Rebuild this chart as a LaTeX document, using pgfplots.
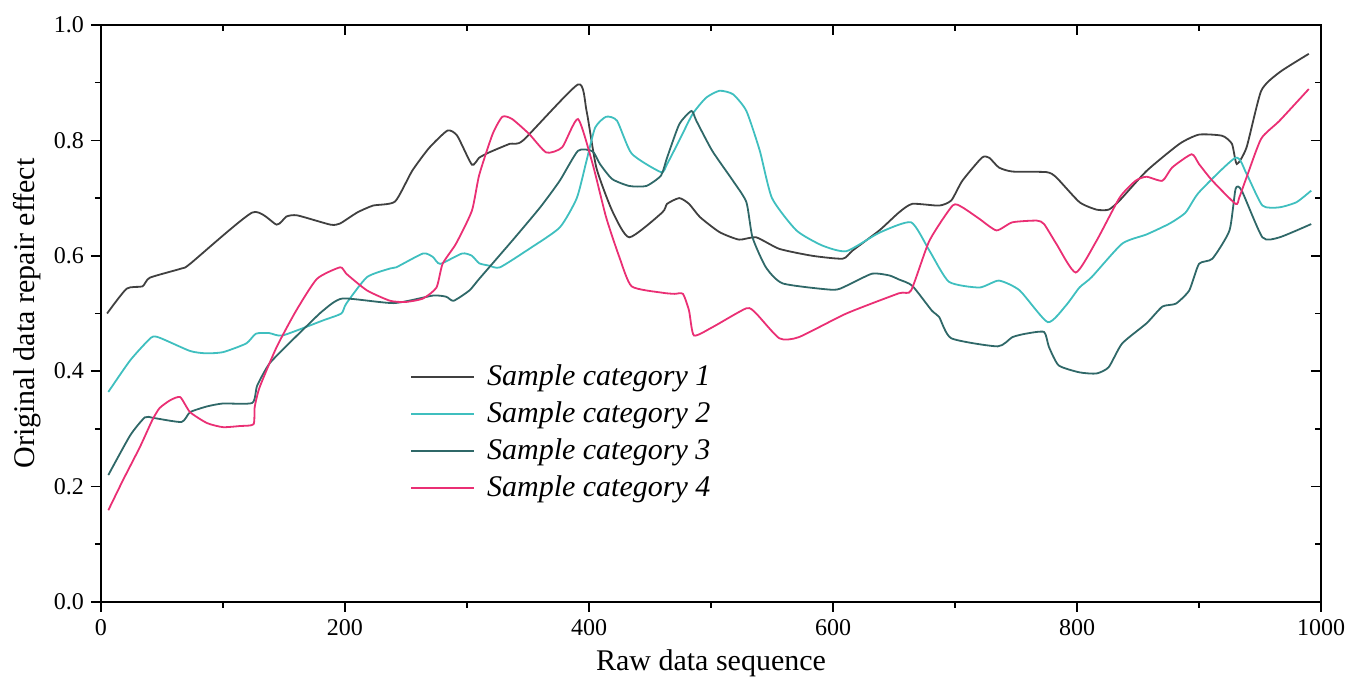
\documentclass[border=0pt]{standalone}
\usepackage{pgfplots}
\pgfplotsset{compat=1.18}
\usepackage{fontspec}
\setmainfont{Liberation Serif}

\definecolor{sone}{HTML}{404040}
\definecolor{stwo}{HTML}{3FBFBF}
\definecolor{sthree}{HTML}{2F6868}
\definecolor{sfour}{HTML}{EA2F74}

\pgfplotsset{
  common/.style={
    scale only axis,
    width=610pt, height=288.5pt,
    xmin=0, xmax=1000, ymin=0, ymax=1,
    xtick={0,200,...,1000},
    ytick={0,0.2,0.4,0.6,0.8,1.0},
    minor x tick num=1,
    minor y tick num=1,
    major tick length=5pt,
    minor tick length=3pt,
    axis line style={line width=1pt},
    every tick/.style={line width=0.8pt, black},
  },
}

\begin{document}
\begin{tikzpicture}
\path[use as bounding box] (-50.5pt,-40.5pt) rectangle (625pt,301pt);

% inward ticks on top and right, as in the source
\begin{axis}[
    common,
    tick align=inside,
    xtick pos=right, ytick pos=right,
    xticklabels={}, yticklabels={},
]
\end{axis}

\begin{axis}[
    common,
    tick align=outside,
    xtick pos=left, ytick pos=left,
    /pgf/number format/assume math mode=true,
    /pgf/number format/1000 sep={},
    ticklabel style={font=\fontsize{12}{14}\selectfont},
    yticklabel style={/pgf/number format/.cd, fixed, fixed zerofill, precision=1},
    xlabel={Raw data sequence},
    ylabel={Original data repair effect},
    label style={font=\fontsize{15}{18}\selectfont},
    xlabel style={at={(axis description cs:0.5,0)}, anchor=center, yshift=-30.5pt},
    ylabel style={at={(axis description cs:0,0.5)}, anchor=center, yshift=37pt},
    legend cell align=left,
    legend style={
      at={(axis description cs:0.2532,0.422)}, anchor=north west,
      draw=none, fill=none, inner sep=0pt,
      row sep=0pt, column sep=4pt,
      font=\fontsize{15}{18}\selectfont\itshape,
      nodes={inner sep=2pt, text height=11.5pt, text depth=3pt},
    },
    legend image code/.code={\draw[#1] (0pt,0pt) -- (31.5pt,0pt);},
    every axis plot/.append style={line width=0.9pt, smooth, tension=0.35},
]

\addplot[color=sone] coordinates {
  (5,0.50) (21,0.543) (34,0.547) (40,0.562) (66,0.578) (73,0.586)
  (124,0.675) (144,0.654) (152,0.668) (161,0.67) (188,0.654) (196,0.656)
  (210,0.675) (223,0.687) (241,0.694) (255,0.747) (269,0.787) (284,0.817)
  (292,0.808) (304,0.758) (310,0.770) (318,0.779) (335,0.794) (346,0.800)
  (391,0.897) (398,0.851) (406,0.753) (419,0.678) (433,0.632) (460,0.675)
  (464,0.69) (474,0.70) (482,0.69) (491,0.667) (507,0.641) (523,0.628)
  (537,0.632) (556,0.612) (583,0.60) (608,0.595) (616,0.609) (638,0.644)
  (654,0.675) (665,0.69) (687,0.687) (697,0.696) (706,0.73) (722,0.77)
  (728,0.77) (736,0.753) (747,0.746) (775,0.745) (783,0.736) (802,0.693)
  (816,0.68) (826,0.68) (835,0.696) (857,0.747) (884,0.794) (900,0.81)
  (919,0.808) (927,0.794) (931,0.759) (939,0.788) (951,0.886) (966,0.918)
  (990,0.95)
};
\addlegendentry{Sample category 1}

\addplot[color=stwo] coordinates {
  (6,0.364) (24,0.419) (41,0.458) (48,0.458) (73,0.435) (86,0.431)
  (100,0.433) (119,0.448) (127,0.465) (138,0.466) (149,0.462) (182,0.488)
  (197,0.50) (201,0.517) (218,0.563) (237,0.578) (242,0.58) (264,0.604)
  (272,0.598) (278,0.586) (296,0.604) (304,0.60) (310,0.587) (318,0.583)
  (327,0.58) (351,0.612) (376,0.649) (390,0.70) (398,0.765) (405,0.822)
  (414,0.841) (423,0.834) (435,0.777) (459,0.745) (464,0.759) (474,0.80)
  (485,0.846) (496,0.874) (507,0.886) (518,0.88) (529,0.851) (540,0.782)
  (550,0.70) (570,0.644) (591,0.618) (611,0.608) (638,0.640) (664,0.658)
  (679,0.609) (695,0.555) (720,0.545) (736,0.557) (753,0.54) (776,0.485)
  (791,0.514) (802,0.545) (812,0.563) (837,0.621) (857,0.637) (876,0.656)
  (889,0.675) (900,0.71) (930,0.77) (939,0.742) (952,0.687) (966,0.684)
  (980,0.693) (992,0.713)
};
\addlegendentry{Sample category 2}

\addplot[color=sthree] coordinates {
  (6,0.22) (24,0.289) (36,0.32) (43,0.319) (66,0.312) (73,0.329)
  (87,0.339) (100,0.344) (124,0.345) (128,0.375) (138,0.413) (155,0.45)
  (169,0.479) (182,0.505) (198,0.526) (240,0.518) (272,0.531) (283,0.529)
  (289,0.522) (302,0.54) (310,0.56) (337,0.626) (360,0.684) (376,0.73)
  (391,0.782) (403,0.781) (409,0.759) (419,0.733) (433,0.721) (447,0.721)
  (459,0.739) (464,0.77) (474,0.828) (484,0.851) (488,0.834) (501,0.782)
  (518,0.73) (529,0.693) (534,0.632) (545,0.58) (559,0.552) (600,0.541)
  (611,0.548) (632,0.569) (646,0.566) (654,0.559) (665,0.548) (681,0.505)
  (687,0.494) (697,0.457) (735,0.443) (747,0.459) (758,0.465) (773,0.468)
  (777,0.442) (785,0.41) (802,0.398) (816,0.396) (826,0.407) (837,0.448)
  (857,0.483) (870,0.512) (881,0.517) (892,0.54) (900,0.586) (911,0.595)
  (925,0.644) (930,0.716) (935,0.713) (952,0.632) (966,0.632) (992,0.655)
};
\addlegendentry{Sample category 3}

\addplot[color=sfour] coordinates {
  (6,0.159) (18,0.211) (32,0.269) (42,0.315) (48,0.336) (57,0.35)
  (65,0.355) (73,0.329) (87,0.31) (100,0.303) (114,0.305) (125,0.308)
  (126,0.338) (130,0.372) (144,0.442) (160,0.505) (177,0.56) (196,0.58)
  (201,0.569) (218,0.54) (237,0.522) (250,0.52) (264,0.526) (275,0.545)
  (280,0.586) (291,0.621) (304,0.678) (310,0.74) (321,0.811) (329,0.841)
  (337,0.837) (351,0.811) (365,0.779) (378,0.788) (391,0.837) (403,0.759)
  (414,0.667) (425,0.597) (435,0.547) (460,0.536) (470,0.534) (477,0.534)
  (482,0.505) (486,0.462) (501,0.476) (529,0.509) (537,0.50) (556,0.457)
  (572,0.459) (611,0.50) (654,0.535) (664,0.54) (679,0.626) (698,0.687)
  (706,0.684) (720,0.664) (734,0.644) (747,0.658) (767,0.661) (773,0.655)
  (783,0.621) (799,0.571) (816,0.626) (835,0.701) (848,0.73) (857,0.737)
  (870,0.73) (878,0.753) (894,0.776) (900,0.759) (911,0.73) (930,0.69)
  (933,0.701) (939,0.736) (951,0.803) (966,0.834) (990,0.889)
};
\addlegendentry{Sample category 4}

\end{axis}
\end{tikzpicture}
\end{document}
